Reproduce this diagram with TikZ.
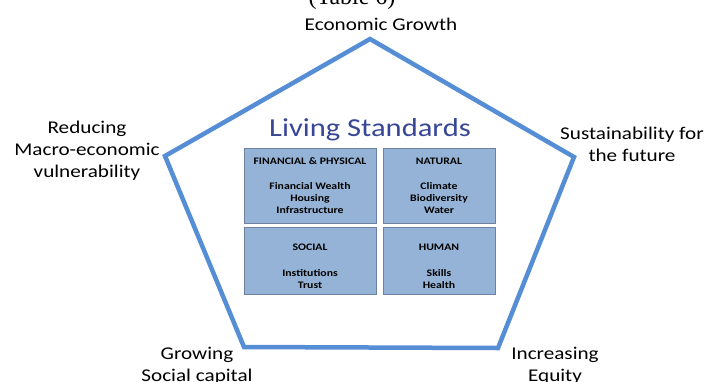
\documentclass[tikz,border=0pt]{standalone}
\usepackage{fontspec}
\setmainfont[FakeStretch=1.18]{Carlito}
\newfontfamily\tablefont{Liberation Serif}
\usetikzlibrary{positioning}
\definecolor{pentblue}{RGB}{85,142,213}
\definecolor{capfill}{RGB}{149,179,215}
\definecolor{capline}{RGB}{110,130,160}
\definecolor{titleblue}{RGB}{55,70,150}
\tikzset{
    goal/.style={align=center, inner sep=0pt, font=\fontsize{18}{22}\selectfont},
    capital/.style={draw=capline, fill=capfill, line width=0.8pt, inner sep=0pt},
    caphead/.style={inner sep=0pt, font=\fontsize{10}{12}\selectfont\bfseries},
    capitems/.style={align=center, inner sep=0pt, font=\fontsize{10}{12}\selectfont\bfseries},
}

\begin{document}
\begin{tikzpicture}[x=1bp, y=-1bp]
	\useasboundingbox (0,0) rectangle (707,381);
	% pentagon of goals
	\coordinate (top) at (370,39);
	\coordinate (left) at (165,156);
	\coordinate (right) at (574,157);
	\coordinate (botleft) at (244,347);
	\coordinate (botright) at (498,348);
	\draw[pentblue, line width=4.5bp, line join=miter] (top)--(right)--(botright)--(botleft)--(left)--cycle;
	\node[anchor=base, font=\tablefont\fontsize{24}{26}\selectfont] (table) at (352,4) {(Table 6)};
	\node[goal] (growth) at (381,24) {Economic Growth};
	\node[goal] (vulner) at (87,151) {Reducing\\Macro-economic\\vulnerability};
	\node[goal] (sustain) at (632,144) {Sustainability for\\the future};
	\node[goal] (social) at (197,366) {Growing\\Social capital};
	\node[goal] (equity) at (555,366) {Increasing\\Equity};
	% living standards and the four capitals
	\node[inner sep=0pt, text=titleblue, font=\fontsize{26}{30}\selectfont] (living) at (370,130) {Living Standards};
	\node[capital, minimum width=132bp, minimum height=75bp] (fin) at (310,185.5) {};
	\node[capital, minimum width=112bp, minimum height=75bp] (nat) at (439,185.5) {};
	\node[capital, minimum width=132bp, minimum height=67bp] (soc) at (310,260.5) {};
	\node[capital, minimum width=112bp, minimum height=67bp] (hum) at (439,260.5) {};
	\node[caphead] (finhead) at (310,161) {FINANCIAL \& PHYSICAL};
	\node[capitems] (finitems) at (310,198) {Financial Wealth\\Housing\\Infrastructure};
	\node[caphead] (nathead) at (439,161) {NATURAL};
	\node[capitems] (natitems) at (439,198) {Climate\\Biodiversity\\Water};
	\node[caphead] (sochead) at (310,247) {SOCIAL};
	\node[capitems] (socitems) at (310,279) {Institutions\\Trust};
	\node[caphead] (humhead) at (439,247) {HUMAN};
	\node[capitems] (humitems) at (439,279) {Skills\\Health};
\end{tikzpicture}
\end{document}
